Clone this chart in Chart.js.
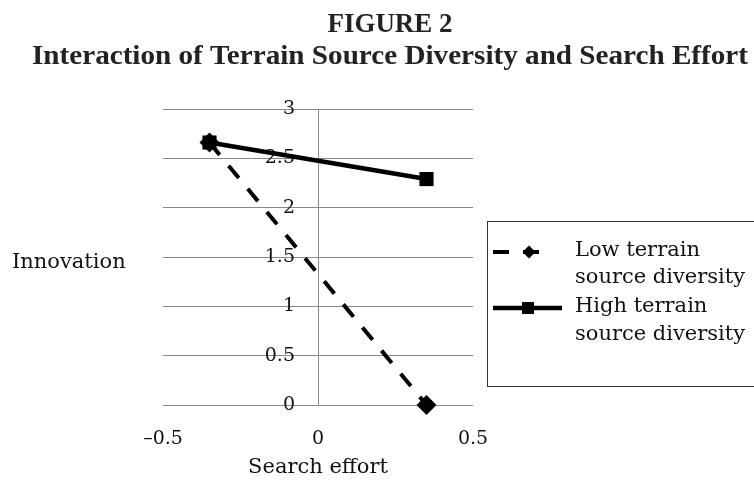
<!DOCTYPE html>
<html>
<head>
<meta charset="utf-8">
<script src="https://cdn.jsdelivr.net/npm/chart.js@4"></script>
<style>
  html, body { margin: 0; padding: 0; background: #fff; }
  #wrap { width: 754px; height: 484px; }
</style>
</head>
<body>
<div id="wrap"><canvas id="chart" width="754" height="484"></canvas></div>
<script>
// values
const effortValues = [-0.35, 0.35];
const lowValues = [2.66, 0];
const highValues = [2.66, 2.29];
const legendLines = [["Low terrain", "source diversity"], ["High terrain", "source diversity"]];
const xTicks = [-0.5, 0, 0.5];
const xTickLabels = ["–0.5", "0", "0.5"];
const yTicks = [0, 0.5, 1, 1.5, 2, 2.5, 3];
const yTickLabels = ["0", "0.5", "1", "1.5", "2", "2.5", "3"];
const titleLines = ["FIGURE 2", "Interaction of Terrain Source Diversity and Search Effort"];

const serif = "'DejaVu Serif', serif";

function toPoints(values) {
    return effortValues.map((x, i) => ({ x: x, y: values[i] }));
}

// bold figure title, squeezed to the width it has in the print
const titlePlugin = {
    id: "figTitle",
    afterDraw(chart) {
        const ctx = chart.ctx;
        const specs = [[titleLines[0], 32, 125], [titleLines[1], 64, 716]];
        ctx.save();
        ctx.fillStyle = "#222";
        ctx.font = "bold 28px 'Liberation Serif', serif";
        ctx.textAlign = "center";
        ctx.textBaseline = "alphabetic";
        specs.forEach(s => {
            let w = ctx.measureText(s[0]).width;
            ctx.save();
            ctx.translate(390, s[1]);
            ctx.scale(s[2] / w, 1);
            ctx.fillText(s[0], 0, 0);
            ctx.restore();
        });
        ctx.restore();
    }
};

// the y axis sits at x = 0 and chart.js ignores tick padding there,
// so push its labels a bit to the left before drawing
const yTickShift = {
    id: "yTickShift",
    beforeDraw(chart) {
        let items = chart.scales.y.getLabelItems();
        if (items._shifted) return;
        items.forEach(it => { it.options.translation[0] -= 23; });
        items._shifted = true;
    }
};

// horizontal "Innovation" label on the left
const yLabelPlugin = {
    id: "yLabel",
    afterDraw(chart) {
        const ctx = chart.ctx;
        ctx.save();
        ctx.fillStyle = "#111";
        ctx.font = "21px " + serif;
        ctx.textBaseline = "alphabetic";
        ctx.fillText("Innovation", 12, 268);
        ctx.restore();
    }
};

// boxed legend with two-line labels
const legendPlugin = {
    id: "boxLegend",
    afterDraw(chart) {
        const ctx = chart.ctx;
        ctx.save();
        ctx.strokeStyle = "#333";
        ctx.lineWidth = 1;
        ctx.strokeRect(487.5, 221.5, 300, 165);

        const rows = [
            { ds: chart.data.datasets[1], y: 252, x1: 493, x2: 548, mx: 529, mr: 6.5, text: legendLines[0], base: [256, 283] },
            { ds: chart.data.datasets[0], y: 308, x1: 493, x2: 562, mx: 528, mr: 8.5, text: legendLines[1], base: [312, 340] }
        ];
        rows.forEach(r => {
            ctx.strokeStyle = r.ds.borderColor;
            ctx.lineWidth = r.ds.borderWidth;
            ctx.setLineDash(r.ds.borderDash || []);
            ctx.beginPath();
            ctx.moveTo(r.x1, r.y);
            ctx.lineTo(r.x2, r.y);
            ctx.stroke();
            ctx.setLineDash([]);
            ctx.fillStyle = r.ds.pointBackgroundColor;
            ctx.beginPath();
            Chart.helpers.drawPoint(ctx, { pointStyle: r.ds.pointStyle, rotation: 0, borderWidth: 0, radius: r.mr }, r.mx, r.y);
            ctx.fillStyle = "#111";
            ctx.font = "21px " + serif;
            ctx.textBaseline = "alphabetic";
            r.text.forEach((t, i) => ctx.fillText(t, 575, r.base[i]));
        });
        ctx.restore();
    }
};

const ctx = document.getElementById("chart").getContext("2d");
new Chart(ctx, {
    type: "line",
    data: {
        datasets: [{
            label: legendLines[1].join(" "),
            data: toPoints(highValues),
            order: 0,
            clip: false,
            borderColor: "#000",
            borderWidth: 4.5,
            pointStyle: "rect",
            pointRadius: 10,
            pointBackgroundColor: "#000",
            pointBorderWidth: 0
        }, {
            label: legendLines[0].join(" "),
            data: toPoints(lowValues),
            order: 1,
            clip: false,
            borderColor: "#000",
            borderWidth: 4,
            borderDash: [16, 14],
            pointStyle: "rectRot",
            pointRadius: 10,
            pointBackgroundColor: "#000",
            pointBorderWidth: 0
        }]
    },
    options: {
        responsive: false,
        animation: false,
        devicePixelRatio: 1,
        layout: { padding: { left: 163, right: 281, top: 109, bottom: 0 } },
        plugins: {
            legend: { display: false },
            tooltip: { enabled: false }
        },
        scales: {
            x: {
                type: "linear",
                min: -0.5,
                max: 0.5,
                grid: { display: false, drawTicks: false },
                border: { display: false },
                afterBuildTicks: s => { s.ticks = xTicks.map(v => ({ value: v })); },
                afterFit: s => { s.height = 79; },
                ticks: {
                    color: "#111",
                    font: { family: serif, size: 19 },
                    padding: 23,
                    maxRotation: 0,
                    callback: (v, i) => xTickLabels[i]
                },
                title: {
                    display: true,
                    text: "Search effort",
                    color: "#111",
                    font: { family: serif, size: 21 },
                    padding: { top: 0, bottom: 4 }
                }
            },
            y: {
                type: "linear",
                position: { x: 0 },
                min: 0,
                max: 3,
                grid: { color: "#8a8a8a", lineWidth: 1, drawTicks: false },
                border: { display: true, color: "#8a8a8a", width: 1 },
                afterBuildTicks: s => { s.ticks = yTicks.map(v => ({ value: v })); },
                ticks: {
                    color: "#111",
                    font: { family: serif, size: 19 },
                    callback: (v, i) => yTickLabels[i]
                }
            }
        }
    },
    plugins: [titlePlugin, yTickShift, yLabelPlugin, legendPlugin]
});
</script>
</body>
</html>
